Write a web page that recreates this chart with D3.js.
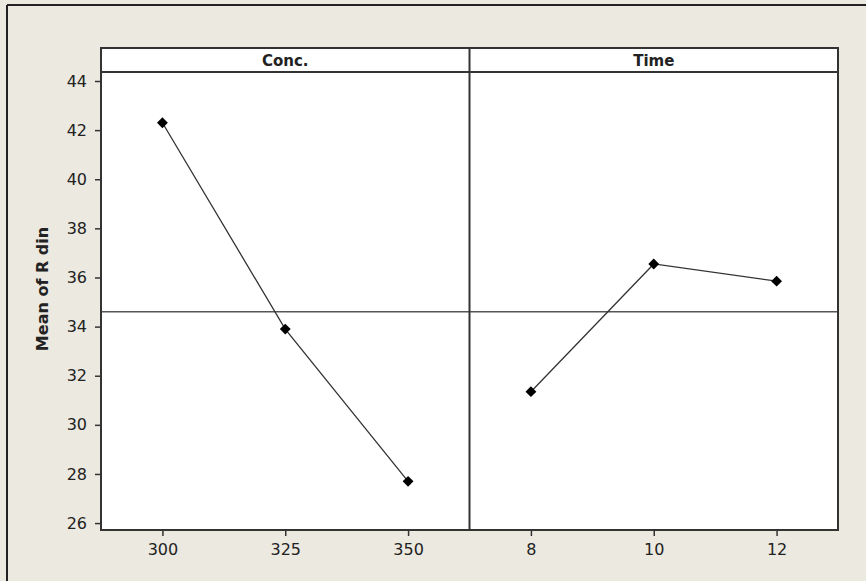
<!DOCTYPE html>
<html>
<head>
<meta charset="utf-8">
<script src="https://cdn.jsdelivr.net/npm/d3@7"></script>
<style>
  body { margin: 0; background: #ece9e1; }
  svg { display: block; }
  text { font-family: "DejaVu Sans", Verdana, sans-serif; fill: #222; }
</style>
</head>
<body>
<div id="chart"></div>
<script>
// factor levels and means
const concLevels = ["300", "325", "350"];
const concMeans = [42.3, 33.9, 27.7];
const timeLevels = ["8", "10", "12"];
const timeMeans = [31.35, 36.55, 35.85];
const yTicks = [26, 28, 30, 32, 34, 36, 38, 40, 42, 44];
const panelTitles = ["Conc.", "Time"];
const yLabel = "Mean of R din";

const W = 866, H = 581;
const plotLeft = 101, plotRight = 838, plotTop = 48, stripBottom = 72, plotBottom = 530;
const panelW = (plotRight - plotLeft) / 2;

const svg = d3.select("#chart").append("svg")
  .attr("width", W).attr("height", H);

// outer frame (only left / top edges show in the picture)
svg.append("rect").attr("x", 0).attr("y", 0).attr("width", W).attr("height", H)
  .attr("fill", "#ece9e1");
svg.append("line").attr("x1", 7).attr("x2", 7).attr("y1", 5).attr("y2", H)
  .attr("stroke", "#222").attr("stroke-width", 2);
svg.append("line").attr("x1", 7).attr("x2", W).attr("y1", 5).attr("y2", 5)
  .attr("stroke", "#222").attr("stroke-width", 2);

// white plot area
svg.append("rect").attr("x", plotLeft).attr("y", plotTop)
  .attr("width", plotRight - plotLeft).attr("height", plotBottom - plotTop)
  .attr("fill", "#fff");

const y = d3.scaleLinear()
  .domain([44 - (plotBottom - 81) / 24.56, 44 + (81 - stripBottom) / 24.56])
  .range([plotBottom, stripBottom]);

const grandMean = d3.mean(concMeans.concat(timeMeans));

const panels = [
  { title: panelTitles[0], levels: concLevels, means: concMeans },
  { title: panelTitles[1], levels: timeLevels, means: timeMeans }
];

panels.forEach((p, i) => {
  const x0 = plotLeft + i * panelW;
  const x = d3.scalePoint().domain(p.levels).range([x0, x0 + panelW]).padding(0.5);
  const g = svg.append("g");

  // reference line at grand mean
  g.append("line")
    .attr("x1", x0).attr("x2", x0 + panelW)
    .attr("y1", y(grandMean)).attr("y2", y(grandMean))
    .attr("stroke", "#555").attr("stroke-width", 1.5);

  const pts = p.levels.map((l, j) => [x(l), y(p.means[j])]);
  g.append("path")
    .attr("d", d3.line()(pts))
    .attr("fill", "none").attr("stroke", "#333").attr("stroke-width", 1.3);

  g.selectAll(".pt").data(pts).join("path")
    .attr("transform", d => "translate(" + d[0] + "," + d[1] + ")")
    .attr("d", d3.symbol(d3.symbolDiamond2, 75)())
    .attr("fill", "#000");

  // x axis
  const xa = svg.append("g").attr("transform", "translate(0," + plotBottom + ")")
    .call(d3.axisBottom(x).tickSize(6).tickPadding(8));
  xa.select(".domain").remove();
  xa.selectAll(".tick line").attr("stroke", "#333").attr("stroke-width", 1.5);
  xa.selectAll(".tick text").attr("font-size", 16).attr("font-family", null).style("fill", "#222");

  // strip title
  svg.append("text")
    .attr("x", x0 + panelW / 2).attr("y", plotTop + 18)
    .attr("text-anchor", "middle")
    .attr("font-size", 15).attr("font-weight", "bold")
    .text(p.title);
});

// y axis
const ya = svg.append("g").attr("transform", "translate(" + plotLeft + ",0)")
  .call(d3.axisLeft(y).tickValues(yTicks).tickSize(6).tickPadding(8));
ya.select(".domain").remove();
ya.selectAll(".tick line").attr("stroke", "#333").attr("stroke-width", 1.5);
ya.selectAll(".tick text").attr("font-size", 16).attr("font-family", null).style("fill", "#222");

// borders: outer box, strip line, panel divider
const bc = "#333";
svg.append("rect").attr("x", plotLeft).attr("y", plotTop)
  .attr("width", plotRight - plotLeft).attr("height", plotBottom - plotTop)
  .attr("fill", "none").attr("stroke", bc).attr("stroke-width", 2);
svg.append("line").attr("x1", plotLeft).attr("x2", plotRight)
  .attr("y1", stripBottom).attr("y2", stripBottom)
  .attr("stroke", bc).attr("stroke-width", 2);
svg.append("line").attr("x1", plotLeft + panelW).attr("x2", plotLeft + panelW)
  .attr("y1", plotTop).attr("y2", plotBottom)
  .attr("stroke", bc).attr("stroke-width", 2);

// y label
svg.append("text")
  .attr("transform", "translate(48," + (plotTop + plotBottom) / 2 + ") rotate(-90)")
  .attr("text-anchor", "middle")
  .attr("font-size", 16).attr("font-weight", "bold")
  .text(yLabel);
</script>
</body>
</html>
